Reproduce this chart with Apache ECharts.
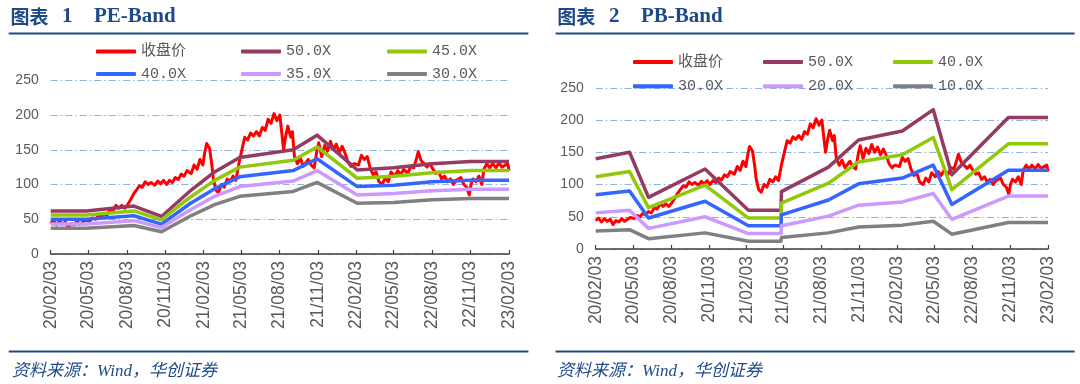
<!DOCTYPE html>
<html><head><meta charset="utf-8">
<script src="https://cdn.jsdelivr.net/npm/echarts@6/dist/echarts.min.js"></script>
<style>
html,body{margin:0;padding:0;background:#fff;}
#wrap{position:relative;width:1080px;height:384px;}
#c1{position:absolute;left:0;top:0;width:540px;height:384px;}
#c2{position:absolute;left:540px;top:0;width:540px;height:384px;}
</style>
</head><body><div id="wrap"><div id="c1"></div><div id="c2"></div></div>
<script>
// ---------- data ----------
const tickDates = ['2020-02-03','2020-05-03','2020-08-03','2020-11-03','2021-02-03','2021-05-03','2021-08-03','2021-11-03','2022-02-03','2022-05-03','2022-08-03','2022-11-03','2023-02-03'];
const yTicks = [0, 50, 100, 150, 200, 250];

const priceDates = ['2020-02-03','2020-02-10','2020-02-17','2020-02-24','2020-03-02','2020-03-09','2020-03-16','2020-03-23','2020-03-30','2020-04-06','2020-04-13','2020-04-20','2020-04-27','2020-05-06','2020-05-13','2020-05-20','2020-05-27','2020-06-03','2020-06-10','2020-06-17','2020-06-24','2020-07-01','2020-07-08','2020-07-15','2020-07-22','2020-07-29','2020-08-05','2020-08-12','2020-08-19','2020-08-26','2020-09-02','2020-09-09','2020-09-16','2020-09-23','2020-09-30','2020-10-09','2020-10-16','2020-10-23','2020-10-30','2020-11-06','2020-11-13','2020-11-20','2020-11-27','2020-12-04','2020-12-11','2020-12-18','2020-12-25','2021-01-04','2021-01-11','2021-01-18','2021-01-25','2021-02-01','2021-02-05','2021-02-10','2021-02-17','2021-02-22','2021-02-26','2021-03-04','2021-03-10','2021-03-17','2021-03-24','2021-03-31','2021-04-07','2021-04-14','2021-04-21','2021-04-28','2021-05-06','2021-05-12','2021-05-19','2021-05-26','2021-06-02','2021-06-09','2021-06-16','2021-06-23','2021-06-30','2021-07-07','2021-07-14','2021-07-21','2021-07-28','2021-08-04','2021-08-09','2021-08-13','2021-08-18','2021-08-23','2021-08-30','2021-09-03','2021-09-08','2021-09-15','2021-09-22','2021-09-29','2021-10-11','2021-10-18','2021-10-25','2021-11-01','2021-11-05','2021-11-12','2021-11-19','2021-11-26','2021-12-03','2021-12-10','2021-12-17','2021-12-24','2021-12-31','2022-01-07','2022-01-14','2022-01-21','2022-01-28','2022-02-08','2022-02-15','2022-02-22','2022-03-01','2022-03-08','2022-03-15','2022-03-22','2022-03-29','2022-04-06','2022-04-13','2022-04-20','2022-04-27','2022-05-06','2022-05-13','2022-05-20','2022-05-27','2022-06-06','2022-06-13','2022-06-20','2022-06-27','2022-07-01','2022-07-08','2022-07-15','2022-07-22','2022-07-29','2022-08-05','2022-08-12','2022-08-19','2022-08-26','2022-09-02','2022-09-09','2022-09-16','2022-09-23','2022-09-30','2022-10-11','2022-10-18','2022-10-25','2022-10-31','2022-11-04','2022-11-09','2022-11-16','2022-11-23','2022-11-30','2022-12-05','2022-12-12','2022-12-19','2022-12-26','2023-01-03','2023-01-10','2023-01-17','2023-01-31','2023-02-03'];
const priceValues = [44,48,42,47,43,46,38,44,42,47,43,46,49,47,52,50,55,53,58,56,64,62,70,66,70,66,71,78,86,92,98,96,104,100,103,99,105,101,106,100,106,103,110,107,115,112,120,116,128,122,136,128,145,159,152,130,108,92,88,100,96,108,104,112,106,130,152,168,164,174,170,176,170,182,178,194,188,202,192,200,172,150,170,184,168,176,140,130,138,126,136,128,124,150,160,140,156,148,162,150,158,146,155,145,132,126,130,128,142,136,140,124,114,118,104,100,110,104,118,112,120,114,122,116,126,124,138,147,134,130,125,130,122,116,118,108,112,104,108,100,106,110,100,96,85,100,108,104,112,100,122,130,124,130,124,131,125,130,120];

const peDates = ['2020-02-03','2020-04-28','2020-08-20','2020-10-25','2020-12-31','2021-03-01','2021-04-30','2021-09-05','2021-11-01','2022-02-05','2022-05-03','2022-08-03','2022-11-03','2023-02-03'];
const pe50 = [62,62,69,54,90,118,139,150,171,121,124,130,133,133];
const pe45 = [56,56,62,49,81,106,125,135,154,109,112,117,120,120];
const pe40 = [50,50,55,43,72,94,111,120,137,97,99,104,106,106];
const pe35 = [43,43,48,38,63,83,97,105,120,85,87,91,93,93];
const pe30 = [37,37,41,32,54,71,83,90,103,73,74,78,80,80];

const pbDates = ['2020-02-03','2020-04-25','2020-06-10','2020-10-25','2021-02-07','2021-04-27','2021-04-28','2021-08-20','2021-11-01','2022-02-15','2022-05-01','2022-06-15','2022-10-30','2023-02-03'];
const pb50 = [140,150,80,124,60,60,89,127,169,183,216,115,204,204];
const pb40 = [112,120,64,99,48,48,71,102,135,146,173,92,163,163];
const pb30 = [84,90,48,74,36,36,53,76,101,110,130,69,122,122];
const pb20 = [56,60,32,50,24,24,36,51,68,73,86,46,82,82];
const pb10 = [28,30,16,25,12,12,18,25,34,37,43,23,41,41];

// ---------- helpers ----------
function ts(s){ const p = s.split('-').map(Number); return new Date(p[0], p[1]-1, p[2]).getTime(); }
function pairs(dates, vals){ return dates.map((d,i)=>[ts(d), vals[i]]); }
function fmt(v){ const d = new Date(v); const p = n => (n<10?'0':'')+n; return p(d.getFullYear()%100)+'/'+p(d.getMonth()+1)+'/'+p(d.getDate()); }

const NAVY = '#1F4A87';
const C = {red:'#FF0000', plum:'#953B63', green:'#92C80A', blue:'#3366FF', lav:'#CC99FF', gray:'#808080'};

function lineSeries(name, color, data, w){
  return {type:'line', name, color, data, symbol:'none', showSymbol:false,
    lineStyle:{width:w, color, join:'round'}, animation:false, silent:true};
}
function legendCol(left, top, gap, names){
  return {left, top, orient:'vertical', padding:0, itemWidth:40, itemHeight:4, itemGap:gap,
    icon:'roundRect', selectedMode:false, data:names,
    textStyle:{fontSize:15, color:'#595959', fontFamily:"'Liberation Mono','Noto Sans CJK SC'", lineHeight:14}};
}
function panelGraphics(o){
  const serif = "'Liberation Serif','Noto Sans CJK SC'";
  return [
    {type:'text', x:o.tx, y:o.ty, style:{text:'图表', font:"bold 19px 'Noto Sans CJK SC'", fill:NAVY, verticalAlign:'middle'}},
    {type:'text', x:o.nx, y:o.ty, style:{text:o.num, font:"bold 21px 'Liberation Serif'", fill:NAVY, verticalAlign:'middle'}},
    {type:'text', x:o.bx, y:o.ty, style:{text:o.title, font:"bold 21px 'Liberation Serif'", fill:NAVY, verticalAlign:'middle'}},
    {type:'line', shape:{x1:o.l1, y1:33.6, x2:o.l2, y2:33.6}, style:{stroke:NAVY, lineWidth:2}},
    {type:'line', shape:{x1:o.l1, y1:351.4, x2:o.l2, y2:351.4}, style:{stroke:NAVY, lineWidth:2}},
    {type:'text', x:o.sx, y:372, style:{text:'资料来源：Wind，华创证券', font:"italic 17px " + serif, fill:NAVY, verticalAlign:'middle'}}
  ];
}
function axes(grid){
  const tv = tickDates.map(ts);
  return {
    grid: grid,
    xAxis: {type:'value', min:tv[0], max:tv[tv.length-1],
      splitLine:{show:false},
      axisLine:{show:true, lineStyle:{color:'#404040', width:1.5}},
      axisTick:{show:true, inside:true, length:4, lineStyle:{color:'#404040', width:1.2}, customValues:tv},
      axisLabel:{show:true, rotate:90, margin:7, fontSize:17.5, color:'#595959', fontFamily:"'Liberation Sans'",
        customValues:tv, formatter:(v)=>fmt(v)}
    },
    yAxis: {type:'value', min:yTicks[0], max:yTicks[yTicks.length-1], interval:50,
      axisLine:{show:false}, axisTick:{show:false},
      axisLabel:{fontSize:14, color:'#595959', fontFamily:"'Liberation Sans'", margin:12},
      splitLine:{show:true, lineStyle:{color:'#8DB3E2', width:1, type:[7,3,1.5,3]}}
    }
  };
}

// ---------- chart 1 : PE-Band ----------
const ch1 = echarts.init(document.getElementById('c1'), null, {renderer:'canvas'});
const price = pairs(priceDates, priceValues);
const a1 = axes({left:50.7, top:80.25, width:458.3, height:173.75});
ch1.setOption({
  animation:false, backgroundColor:'#fff',
  grid:a1.grid, xAxis:a1.xAxis, yAxis:a1.yAxis,
  legend:[
    legendCol(96, 44, 7.5, ['收盘价','40.0X']),
    legendCol(241, 44, 7.5, ['50.0X','35.0X']),
    legendCol(387, 44, 7.5, ['45.0X','30.0X'])
  ],
  graphic: panelGraphics({tx:10.4, nx:62, bx:94, ty:16.5, num:'1', title:'PE-Band', l1:8.7, l2:528.4, sx:12}),
  series:[
    lineSeries('收盘价', C.red, price, 3),
    lineSeries('50.0X', C.plum, pairs(peDates, pe50), 3.5),
    lineSeries('45.0X', C.green, pairs(peDates, pe45), 3.5),
    lineSeries('40.0X', C.blue, pairs(peDates, pe40), 3.5),
    lineSeries('35.0X', C.lav, pairs(peDates, pe35), 3.5),
    lineSeries('30.0X', C.gray, pairs(peDates, pe30), 3.5)
  ]
});

// ---------- chart 2 : PB-Band ----------
const ch2 = echarts.init(document.getElementById('c2'), null, {renderer:'canvas'});
const a2 = axes({left:55.7, top:87.75, width:452.3, height:161.25});
ch2.setOption({
  animation:false, backgroundColor:'#fff',
  grid:a2.grid, xAxis:a2.xAxis, yAxis:a2.yAxis,
  legend:[
    legendCol(93, 54.6, 9.2, ['收盘价','30.0X']),
    legendCol(223, 54.6, 9.2, ['50.0X','20.0X']),
    legendCol(353, 54.6, 9.2, ['40.0X','10.0X'])
  ],
  graphic: panelGraphics({tx:17.3, nx:69, bx:101, ty:16.5, num:'2', title:'PB-Band', l1:15.6, l2:534.6, sx:17}),
  series:[
    lineSeries('收盘价', C.red, price, 3),
    lineSeries('50.0X', C.plum, pairs(pbDates, pb50), 3.5),
    lineSeries('40.0X', C.green, pairs(pbDates, pb40), 3.5),
    lineSeries('30.0X', C.blue, pairs(pbDates, pb30), 3.5),
    lineSeries('20.0X', C.lav, pairs(pbDates, pb20), 3.5),
    lineSeries('10.0X', C.gray, pairs(pbDates, pb10), 3.5)
  ]
});
</script>
</body></html>
